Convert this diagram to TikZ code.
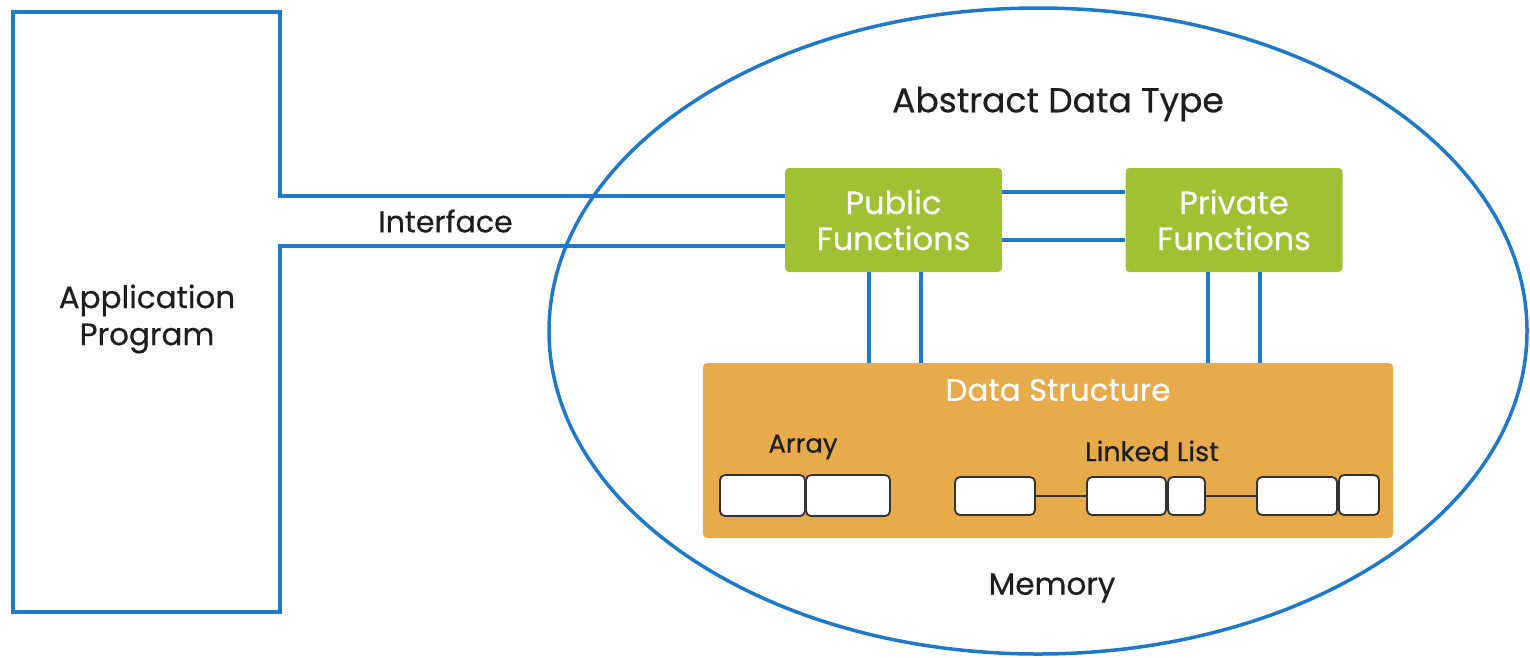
\documentclass[tikz,border=0pt]{standalone}
\usepackage{fontspec}
\setmainfont{Poppins}[FakeBold=0.5]
\definecolor{adtblue}{RGB}{30,122,200}
\definecolor{adtgreen}{RGB}{162,192,52}
\definecolor{adtorange}{RGB}{232,171,75}
\definecolor{adttext}{RGB}{30,30,30}
\definecolor{celledge}{RGB}{50,50,50}
\tikzset{
  bl/.style={draw=adtblue, line width=3.5pt},
  lbl/.style={text=adttext, font=\fontsize{31}{37}\selectfont, inner sep=0pt, align=center},
  fnbox/.style={fill=adtgreen, rounded corners=4pt, minimum width=217pt, minimum height=104pt, inner sep=0pt, text=white, align=center, font=\fontsize{32}{36}\selectfont},
  dsbox/.style={fill=adtorange, rounded corners=4pt, minimum width=690pt, minimum height=175pt, inner sep=0pt},
  cell/.style={draw=celledge, fill=white, line width=1.8pt, rounded corners=5pt, inner sep=0pt, minimum height=39pt},
  link/.style={draw=celledge, line width=1.6pt}
}
\begin{document}
\begin{tikzpicture}[x=1pt,y=-1pt]
\useasboundingbox (0,0) rectangle (1530,657);
% ellipse
\draw[bl] (1038,331) ellipse [x radius=489, y radius=323];
% application program box
\node[minimum width=267pt, minimum height=600pt, inner sep=0pt] (app) at (146.5,312) {};
\node[lbl] (apptext) at (147,319) {Application\\Program};
% function boxes
\node[fnbox] (pub) at (893.5,220) {Public\\Functions};
\node[fnbox] (priv) at (1234,220) {Private\\Functions};
% interface
\coordinate (iftop) at (app.east |- 0,196);
\coordinate (ifbot) at (app.east |- 0,246);
\draw[bl, line join=miter] (pub.west |- iftop) -- (iftop) -- (app.north east) -- (app.north west) -- (app.south west) -- (app.south east) -- (ifbot) -- (pub.west |- ifbot);
\node[lbl, font=\fontsize{30}{36}\selectfont] (iflabel) at (445.5,221) {Interface};
% public-private
\draw[bl] (pub.east |- 0,192) -- (priv.west |- 0,192);
\draw[bl] (pub.east |- 0,240) -- (priv.west |- 0,240);
% title
\node[lbl, font=\fontsize{34.5}{40}\selectfont] (title) at (1058,104) {Abstract Data Type};
% data structure
\node[dsbox] (ds) at (1048,450.5) {};
\node[lbl, text=white] (dstitle) at (1058,390) {Data Structure};
\draw[bl] (pub.south -| 869,0) -- (ds.north -| 869,0);
\draw[bl] (pub.south -| 921,0) -- (ds.north -| 921,0);
\draw[bl] (priv.south -| 1208,0) -- (ds.north -| 1208,0);
\draw[bl] (priv.south -| 1260,0) -- (ds.north -| 1260,0);
% array
\node[lbl, font=\fontsize{26}{30}\selectfont] (arrlbl) at (803,447) {Array};
\node[cell, minimum width=85pt, minimum height=41pt] (a1) at (762.5,495.5) {};
\node[cell, minimum width=84pt, minimum height=41pt] (a2) at (848,495.5) {};
% linked list
\node[lbl, font=\fontsize{27}{30}\selectfont] (lllbl) at (1152,451) {Linked List};
\node[cell, minimum width=80pt, minimum height=38pt] (l1) at (995,496) {};
\node[cell, minimum width=79pt, minimum height=38pt] (l2) at (1126.5,496) {};
\node[cell, minimum width=37pt, minimum height=38pt] (l3) at (1186.5,496) {};
\node[cell, minimum width=80pt, minimum height=38pt] (l4) at (1297,496) {};
\node[cell, minimum width=40pt, minimum height=40pt] (l5) at (1359,495) {};
\draw[link] (l1.east) -- (l2.west);
\draw[link] (l3.east) -- (l4.west);
% memory
\node[lbl] (mem) at (1052,588) {Memory};
\end{tikzpicture}
\end{document}
